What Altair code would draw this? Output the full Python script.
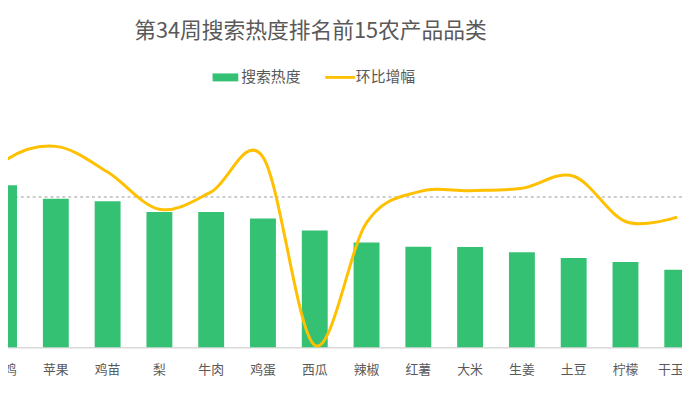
import altair as alt
import pandas as pd

# ---- data ----
categories = ["猪肉", "乌鸡", "苹果", "鸡苗", "梨", "牛肉", "鸡蛋", "西瓜", "辣椒",
              "红薯", "大米", "生姜", "土豆", "柠檬", "干玉米"]
heat = [1800, 1640, 1503, 1477, 1367, 1367, 1303, 1180, 1060, 1017, 1013, 960, 903, 863, 783]
growth = [-11, 18, 25.6, 12.6, -6.2, 2.6, 20.2, -75, -13, 2.6, 3.2, 4.4, 10.5, -12.4, -10.2]
series = ["搜索热度", "环比增幅"]
series_colors = ["#35C173", "#FFC000"]
legend_shapes = ["M-1,-0.31H1V0.31H-1Z", "M-1.15,-0.11H1.15V0.11H-1.15Z"]

df = pd.DataFrame({"cat": categories, "heat": heat, "growth": growth})
zero_df = pd.DataFrame({"v": [0]})
legend_df = pd.DataFrame({"s": series})

FONT = "Noto Sans CJK SC"
GRAY = "#595959"

xscale = alt.Scale(domain=categories, range=[-82.6, 703.4], paddingInner=0.5, paddingOuter=0.25)
x = alt.X("cat:N", scale=xscale, sort=categories, title=None,
          axis=alt.Axis(labelAngle=0, ticks=False, domainColor="#D9D9D9", domainWidth=1.5,
                        labelColor=GRAY, labelFontSize=13, labelFont=FONT, labelPadding=17,
                        labelOverlap=False, labelBound=False, labelFlush=False))

line_scale = alt.Scale(domain=[-76, 43.5], nice=False, zero=False)

rule = alt.Chart(zero_df).mark_rule(color="#9A9A9A", strokeWidth=1, strokeDash=[3, 3]).encode(
    y=alt.Y("v:Q", scale=line_scale, axis=None)
)

bars = alt.Chart(df).mark_bar(color=series_colors[0]).encode(
    x=x,
    y=alt.Y("heat:Q", scale=alt.Scale(domain=[0, 2390], nice=False), axis=None),
)

line = alt.Chart(df).mark_line(color=series_colors[1], strokeWidth=3, interpolate="cardinal").encode(
    x=x,
    y=alt.Y("growth:Q", scale=line_scale, axis=None),
)

leg = alt.Legend(title=None, orient="none", legendX=207, legendY=-47,
                 direction="horizontal", symbolSize=676, symbolOpacity=1,
                 symbolStrokeWidth=0,
                 labelFont=FONT, labelFontSize=15, labelColor=GRAY,
                 labelOffset=3, columnPadding=24, padding=0)

legend_layer = alt.Chart(legend_df).mark_point(filled=True, opacity=0, size=1).encode(
    color=alt.Color("s:N", scale=alt.Scale(domain=series, range=series_colors), legend=leg),
    shape=alt.Shape("s:N", scale=alt.Scale(domain=series, range=legend_shapes), legend=leg),
)

chart = alt.layer(rule, bars, line, legend_layer).resolve_scale(y="independent").properties(
    width=682, height=239,
    title=alt.TitleParams("第34周搜索热度排名前15农产品品类", font=FONT, fontSize=22,
                          fontWeight="normal", color=GRAY, anchor="middle", dx=-35, offset=22),
    autosize=alt.AutoSizeParams(type="none"),
    padding={"left": 0, "top": 102, "right": 0, "bottom": 35},
).configure_view(stroke=None)

chart.save("out.html", embed_options={"renderer": "svg", "actions": False})
